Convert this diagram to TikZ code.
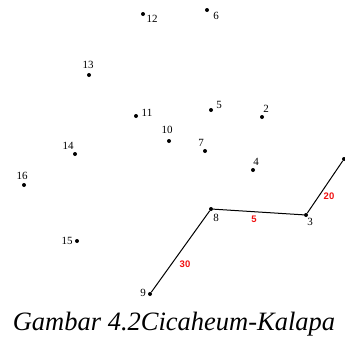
\documentclass[tikz,border=0pt]{standalone}
\usepackage{fontspec}
\setmainfont{Liberation Serif}
\newfontfamily\lsans{Liberation Sans}
\definecolor{lblred}{HTML}{F01010}
\begin{document}
\begin{tikzpicture}[x=1pt,y=-1pt,
  pt/.style={circle,fill=black,inner sep=0pt,minimum size=4pt},
  num/.style={font=\fontsize{11}{12}\selectfont,inner sep=0pt,text=black},
  wt/.style={font=\lsans\bfseries\fontsize{9.5}{10}\selectfont,inner sep=0pt,text=lblred},
  edge/.style={draw=black,line width=1pt}]
\useasboundingbox (0,0) rectangle (345,340);
\node[pt] (n1) at (344,159) {};
\node[pt] (n2) at (262,117) {};
\node[pt] (n3) at (306,215) {};
\node[pt] (n4) at (253,170) {};
\node[pt] (n5) at (211,110) {};
\node[pt] (n6) at (207,10) {};
\node[pt] (n7) at (205,151) {};
\node[pt] (n8) at (211,209) {};
\node[pt] (n9) at (150,294) {};
\node[pt] (n10) at (169,141) {};
\node[pt] (n11) at (136,116) {};
\node[pt] (n12) at (143,14) {};
\node[pt] (n13) at (89,75) {};
\node[pt] (n14) at (75,154) {};
\node[pt] (n15) at (77,241) {};
\node[pt] (n16) at (24,185) {};
\node[num] (l2) at (266,109) {2};
\node[num] (l3) at (310,222) {3};
\node[num] (l4) at (256,162) {4};
\node[num] (l5) at (219,105) {5};
\node[num] (l6) at (216,16) {6};
\node[num] (l7) at (201,143) {7};
\node[num] (l8) at (216,218) {8};
\node[num] (l9) at (143,293) {9};
\node[num] (l10) at (167,130) {10};
\node[num] (l11) at (147,113) {11};
\node[num] (l12) at (152,19) {12};
\node[num] (l13) at (88,65) {13};
\node[num] (l14) at (68,146) {14};
\node[num] (l15) at (67,241) {15};
\node[num] (l16) at (22,176) {16};
\draw[edge] (n9) -- (n8) -- (n3) -- (n1);
\node[wt] (w5) at (254,219) {5};
\node[wt] (w20) at (329,196) {20};
\node[wt] (w30) at (185,264) {30};
\node[font=\itshape\fontsize{26.5}{30}\selectfont,inner sep=0pt,anchor=base] (cap) at (174,330) {Gambar 4.2Cicaheum-Kalapa};
\end{tikzpicture}
\end{document}
